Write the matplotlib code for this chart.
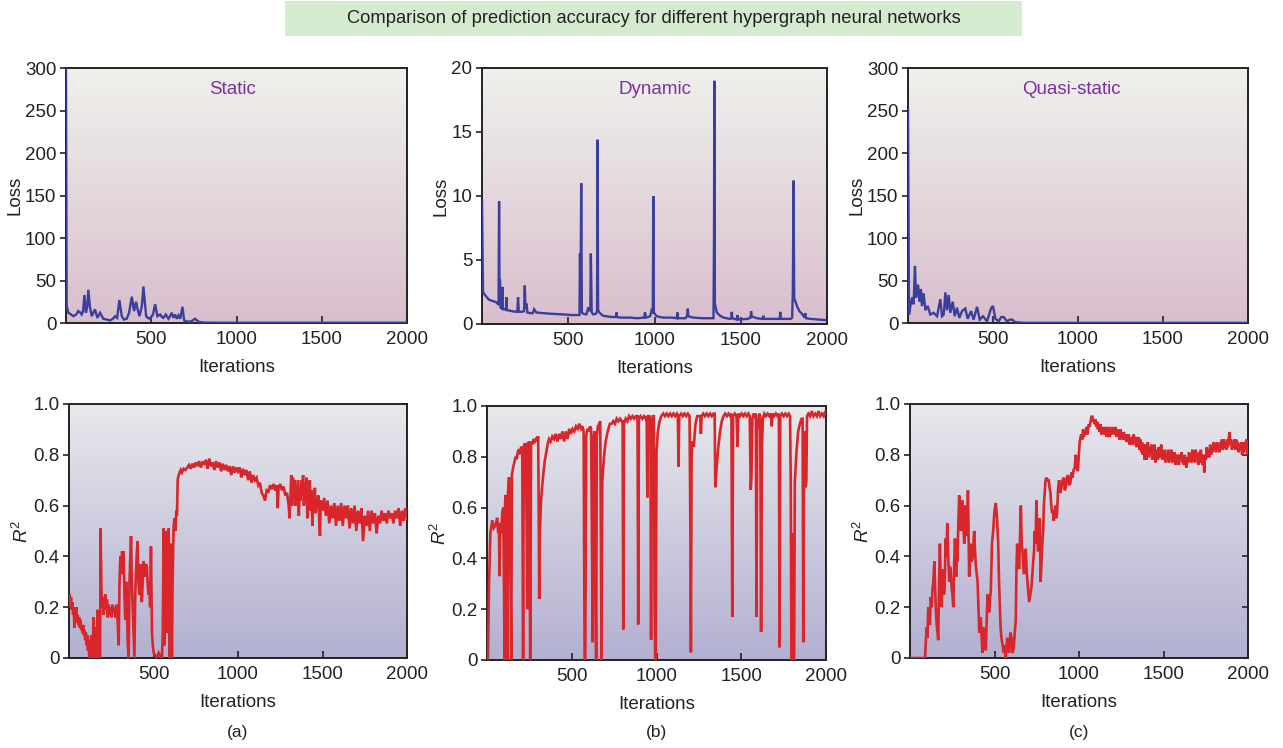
import matplotlib
matplotlib.use("Agg")
import matplotlib.pyplot as plt
import numpy as np
from matplotlib.patches import Rectangle

# ---------------- data ----------------
ITER_TICKS = [500, 1000, 1500, 2000]
LOSS_TICKS_BIG = [0, 50, 100, 150, 200, 250, 300]
LOSS_TICKS_DYN = [0, 5, 10, 15, 20]
R2_TICKS = [0, 0.2, 0.4, 0.6, 0.8, 1.0]
R2_TICK_LABELS = ["0", "0.2", "0.4", "0.6", "0.8", "1.0"]
PANEL_TITLES = ["Static", "Dynamic", "Quasi-static"]
PANEL_LETTERS = ["(a)", "(b)", "(c)"]
SUPTITLE = "Comparison of prediction accuracy for different hypergraph neural networks"

STATIC_LOSS = [(0, 300), (4, 20), (14, 12), (30, 10), (43, 8), (60, 10), (72, 14), (85, 12),
               (92, 10), (100, 14), (108, 33), (117, 12), (125, 20), (131, 39), (141, 18),
               (151, 8), (160, 12), (170, 16), (184, 6), (200, 12), (219, 5), (240, 4),
               (258, 3), (275, 5), (288, 8), (300, 6), (313, 27), (327, 8), (340, 4),
               (356, 5), (370, 12), (386, 31), (399, 14), (411, 25), (420, 16), (431, 8),
               (445, 20), (454, 43), (470, 8), (480, 6), (493, 5), (510, 10), (523, 22),
               (536, 8), (552, 10), (563, 7), (571, 6), (585, 10), (601, 5), (610, 8),
               (620, 12), (630, 6), (640, 10), (650, 5), (660, 9), (670, 5), (683, 19),
               (693, 3), (705, 2), (718, 1.5), (735, 2), (757, 5), (777, 1.5), (797, 0.8),
               (820, 0.5), (900, 0.3), (1200, 0.3), (1600, 0.3), (2000, 0.3)]

DYNAMIC_LOSS = [(0, 9.7), (6, 2.5), (15, 2.3), (40, 1.9), (83, 1.7), (93, 1.55), (96, 1.6),
                (99, 9.6), (102, 1.5), (104, 3.5), (107, 1.3), (116, 1.2), (118, 2.9),
                (121, 1.2), (139, 1.1), (141, 2.1), (144, 1.1), (175, 1.0), (199, 0.95),
                (205, 1.0), (209, 2.1), (213, 0.95), (228, 0.95), (244, 1.0), (248, 3.0),
                (252, 1.2), (258, 1.6), (263, 0.9), (275, 0.85), (295, 0.85), (302, 1.15),
                (315, 0.9), (350, 0.85), (400, 0.8), (470, 0.75), (520, 0.7), (565, 0.7),
                (568, 5.5), (571, 1.0), (575, 11.0), (579, 0.9), (587, 0.8), (605, 0.75),
                (616, 1.3), (625, 1.0), (628, 1.2), (631, 5.5), (636, 0.9), (645, 0.75),
                (660, 0.8), (667, 1.0), (670, 14.4), (673, 1.1), (680, 0.9), (700, 0.65),
                (722, 0.6), (750, 0.55), (778, 0.55), (780, 0.9), (782, 0.55), (800, 0.5),
                (858, 0.5), (900, 0.45), (940, 0.5), (945, 0.9), (950, 0.5), (974, 0.6),
                (986, 1.2), (990, 0.8), (993, 10.0), (996, 0.9), (1013, 0.6), (1051, 0.5),
                (1100, 0.5), (1129, 0.45), (1133, 0.9), (1137, 0.45), (1180, 0.45),
                (1190, 0.7), (1193, 1.2), (1196, 0.6), (1225, 0.5), (1280, 0.45),
                (1342, 0.45), (1345, 7.0), (1347, 19.0), (1350, 1.6), (1361, 0.9),
                (1380, 0.65), (1400, 0.5), (1438, 0.4), (1445, 0.45), (1448, 0.95),
                (1451, 0.45), (1478, 0.35), (1481, 0.7), (1484, 0.35), (1540, 0.4),
                (1557, 0.5), (1560, 1.0), (1563, 0.6), (1593, 0.45), (1629, 0.4),
                (1632, 0.65), (1635, 0.4), (1700, 0.4), (1726, 0.4), (1729, 0.95),
                (1732, 0.4), (1790, 0.4), (1798, 0.5), (1802, 2.5), (1806, 11.2),
                (1810, 2.0), (1816, 1.8), (1826, 1.4), (1840, 1.0), (1855, 0.8),
                (1870, 0.5), (1874, 0.85), (1878, 0.45), (1903, 0.4), (1950, 0.35),
                (2000, 0.3)]

QUASI_LOSS = [(0, 253), (6, 10), (14, 20), (24, 30), (33, 22), (41, 67), (47, 30), (53, 38),
              (59, 45), (67, 25), (76, 40), (82, 20), (92, 35), (102, 15), (116, 20),
              (131, 10), (151, 12), (171, 8), (190, 28), (200, 8), (210, 10), (220, 36),
              (229, 15), (239, 33), (249, 12), (263, 25), (275, 8), (288, 18), (302, 6),
              (318, 14), (337, 17), (351, 5), (371, 14), (386, 4), (406, 19), (422, 4),
              (441, 8), (465, 2), (488, 17), (500, 20), (514, 5), (533, 2), (548, 7),
              (563, 7), (582, 2), (600, 4), (612, 4), (631, 1), (661, 0.5), (700, 0.2),
              (1000, 0.2), (1500, 0.2), (2000, 0.2)]

STATIC_R2 = [(0, 0.22), (4, 0.25), (8, 0.2), (12, 0.24), (16, 0.19), (20, 0.22), (24, 0.17),
             (28, 0.2), (32, 0.12), (36, 0.17), (40, 0.14), (44, 0.2), (48, 0.15),
             (52, 0.17), (56, 0.13), (60, 0.16), (64, 0.12), (68, 0.15), (72, 0.11),
             (76, 0.13), (80, 0.1), (84, 0.13), (88, 0.09), (92, 0.11), (96, 0.07),
             (100, 0.1), (104, 0.05), (108, 0.09), (112, 0.03), (116, 0.07), (120, 0.0),
             (124, 0.05), (128, 0.0), (132, 0.09), (136, 0.03), (140, 0.0), (145, 0.16),
             (150, 0.05), (155, 0.0), (160, 0.12), (165, 0.0), (170, 0.19), (175, 0.05),
             (180, 0.0), (184, 0.0), (187, 0.51), (191, 0.3), (195, 0.2), (200, 0.24),
             (205, 0.17), (210, 0.22), (215, 0.25), (220, 0.19), (225, 0.23), (229, 0.16),
             (234, 0.21), (240, 0.17), (245, 0.2), (250, 0.16), (256, 0.21), (262, 0.18),
             (268, 0.2), (274, 0.16), (280, 0.21), (284, 0.2), (289, 0.12), (294, 0.05),
             (299, 0.3), (304, 0.4), (309, 0.33), (314, 0.42), (319, 0.38), (323, 0.42),
             (328, 0.25), (333, 0.15), (338, 0.3), (343, 0.2), (348, 0.05), (353, 0.0),
             (358, 0.3), (363, 0.4), (367, 0.48), (372, 0.3), (377, 0.2), (382, 0.1),
             (387, 0.0), (392, 0.25), (397, 0.35), (402, 0.42), (406, 0.46), (411, 0.3),
             (416, 0.25), (421, 0.37), (426, 0.3), (431, 0.22), (436, 0.3), (441, 0.38),
             (446, 0.35), (451, 0.32), (456, 0.37), (461, 0.36), (465, 0.3), (470, 0.25),
             (475, 0.3), (480, 0.2), (485, 0.44), (488, 0.25), (491, 0.1), (496, 0.05),
             (501, 0.02), (511, 0.01), (521, 0.0), (531, 0.02), (540, 0.01), (550, 0.0),
             (555, 0.1), (560, 0.51), (563, 0.2), (566, 0.05), (570, 0.35), (574, 0.5),
             (577, 0.3), (580, 0.1), (585, 0.4), (590, 0.51), (593, 0.2), (596, 0.0),
             (600, 0.3), (603, 0.45), (606, 0.2), (609, 0.0), (613, 0.3), (619, 0.52),
             (625, 0.55), (630, 0.5), (635, 0.58), (639, 0.56), (643, 0.7), (649, 0.72),
             (655, 0.73), (661, 0.74), (668, 0.73), (678, 0.745), (688, 0.74), (700, 0.75),
             (710, 0.76), (720, 0.745), (730, 0.765), (740, 0.75), (750, 0.77), (760, 0.755),
             (770, 0.775), (780, 0.75), (790, 0.77), (800, 0.765), (810, 0.78), (820, 0.745),
             (830, 0.785), (840, 0.755), (850, 0.77), (860, 0.74), (870, 0.775), (880, 0.75),
             (890, 0.77), (900, 0.735), (910, 0.765), (920, 0.74), (930, 0.76), (940, 0.735),
             (950, 0.755), (960, 0.72), (970, 0.755), (980, 0.73), (990, 0.75), (1000, 0.735),
             (1010, 0.75), (1020, 0.71), (1030, 0.745), (1040, 0.72), (1050, 0.74),
             (1060, 0.7), (1070, 0.735), (1080, 0.69), (1090, 0.72), (1100, 0.7),
             (1110, 0.71), (1120, 0.68), (1130, 0.69), (1140, 0.65), (1150, 0.64),
             (1160, 0.62), (1170, 0.66), (1180, 0.655), (1190, 0.68), (1200, 0.665),
             (1210, 0.685), (1220, 0.66), (1230, 0.68), (1235, 0.59), (1240, 0.67),
             (1250, 0.685), (1260, 0.66), (1270, 0.675), (1280, 0.64), (1290, 0.65),
             (1300, 0.6), (1305, 0.55), (1310, 0.62), (1315, 0.72), (1320, 0.6),
             (1325, 0.71), (1330, 0.64), (1335, 0.7), (1340, 0.6), (1345, 0.68),
             (1350, 0.62), (1355, 0.7), (1360, 0.56), (1365, 0.67), (1370, 0.62),
             (1375, 0.7), (1380, 0.64), (1385, 0.72), (1390, 0.6), (1395, 0.69),
             (1400, 0.63), (1405, 0.71), (1410, 0.55), (1415, 0.66), (1420, 0.6),
             (1425, 0.7), (1430, 0.58), (1435, 0.66), (1440, 0.52), (1445, 0.64),
             (1450, 0.59), (1455, 0.67), (1460, 0.57), (1465, 0.63), (1470, 0.6),
             (1475, 0.64), (1480, 0.55), (1485, 0.48), (1490, 0.62), (1500, 0.58),
             (1510, 0.63), (1520, 0.56), (1530, 0.62), (1540, 0.53), (1550, 0.6),
             (1560, 0.55), (1570, 0.61), (1580, 0.52), (1590, 0.6), (1600, 0.54),
             (1610, 0.61), (1620, 0.52), (1630, 0.6), (1640, 0.55), (1650, 0.6),
             (1660, 0.51), (1670, 0.59), (1680, 0.53), (1690, 0.6), (1700, 0.5),
             (1710, 0.58), (1720, 0.53), (1730, 0.59), (1740, 0.46), (1750, 0.56),
             (1760, 0.52), (1770, 0.58), (1780, 0.5), (1790, 0.58), (1800, 0.53),
             (1810, 0.57), (1820, 0.49), (1830, 0.56), (1840, 0.53), (1850, 0.58),
             (1860, 0.54), (1870, 0.57), (1880, 0.53), (1890, 0.58), (1900, 0.55),
             (1910, 0.57), (1920, 0.53), (1930, 0.58), (1940, 0.55), (1950, 0.59),
             (1960, 0.52), (1970, 0.58), (1980, 0.54), (1990, 0.59), (2000, 0.55)]

DYNAMIC_R2 = [(0, 0.0), (5, 0.0), (12, 0.3), (20, 0.5), (31, 0.55), (40, 0.52), (50, 0.53),
              (60, 0.56), (66, 0.5), (70, 0.54), (74, 0.33), (78, 0.52), (84, 0.5), (90, 0.58),
              (96, 0.6), (100, 0.3), (104, 0.0), (107, 0.62), (110, 0.65), (115, 0.3),
              (120, 0.0), (124, 0.66), (130, 0.72), (136, 0.5), (143, 0.0), (147, 0.73),
              (155, 0.76), (162, 0.78), (169, 0.8), (175, 0.79), (182, 0.82), (189, 0.83),
              (195, 0.81), (202, 0.84), (208, 0.83), (213, 0.0), (217, 0.84), (222, 0.85),
              (228, 0.85), (233, 0.6), (238, 0.2), (242, 0.85), (248, 0.86), (252, 0.4),
              (255, 0.0), (260, 0.86), (268, 0.85), (275, 0.87), (282, 0.86), (290, 0.87),
              (296, 0.86), (302, 0.88), (305, 0.6), (308, 0.24), (312, 0.5), (318, 0.62),
              (325, 0.68), (332, 0.73), (340, 0.78), (350, 0.82), (358, 0.85), (366, 0.87),
              (375, 0.86), (385, 0.88), (395, 0.87), (405, 0.89), (415, 0.86), (425, 0.89),
              (435, 0.87), (445, 0.9), (455, 0.86), (465, 0.9), (475, 0.87), (485, 0.91),
              (495, 0.89), (505, 0.91), (515, 0.9), (525, 0.92), (535, 0.91), (545, 0.93),
              (555, 0.91), (563, 0.92), (570, 0.9), (576, 0.0), (580, 0.0), (585, 0.88),
              (592, 0.91), (600, 0.9), (608, 0.92), (614, 0.91), (619, 0.5), (624, 0.07),
              (629, 0.88), (634, 0.9), (640, 0.3), (644, 0.0), (648, 0.88), (654, 0.92),
              (662, 0.93), (668, 0.94), (672, 0.5), (676, 0.0), (680, 0.7), (690, 0.8),
              (700, 0.86), (712, 0.9), (725, 0.93), (735, 0.93), (745, 0.94), (755, 0.93),
              (765, 0.95), (775, 0.94), (785, 0.95), (795, 0.94), (800, 0.94), (804, 0.12),
              (808, 0.93), (818, 0.95), (828, 0.94), (838, 0.96), (848, 0.95), (858, 0.96),
              (868, 0.95), (878, 0.96), (888, 0.96), (892, 0.14), (896, 0.95), (906, 0.96),
              (916, 0.95), (926, 0.96), (936, 0.95), (942, 0.96), (946, 0.64), (950, 0.96),
              (958, 0.96), (964, 0.95), (968, 0.08), (972, 0.9), (978, 0.96), (984, 0.96),
              (988, 0.3), (992, 0.0), (996, 0.0), (1000, 0.82), (1008, 0.9), (1018, 0.94),
              (1028, 0.96), (1040, 0.97), (1050, 0.96), (1060, 0.97), (1070, 0.96),
              (1080, 0.97), (1090, 0.96), (1100, 0.97), (1110, 0.96), (1120, 0.97),
              (1126, 0.96), (1130, 0.76), (1134, 0.96), (1145, 0.97), (1155, 0.96),
              (1165, 0.97), (1175, 0.96), (1185, 0.97), (1195, 0.96), (1200, 0.5),
              (1203, 0.03), (1207, 0.8), (1212, 0.86), (1220, 0.84), (1230, 0.93),
              (1240, 0.96), (1250, 0.96), (1258, 0.96), (1262, 0.89), (1266, 0.96),
              (1276, 0.97), (1286, 0.96), (1296, 0.97), (1306, 0.96), (1316, 0.97),
              (1326, 0.96), (1336, 0.97), (1343, 0.97), (1347, 0.68), (1355, 0.76),
              (1365, 0.84), (1375, 0.9), (1385, 0.94), (1395, 0.96), (1405, 0.97),
              (1415, 0.96), (1425, 0.97), (1435, 0.96), (1442, 0.97), (1447, 0.17),
              (1452, 0.96), (1462, 0.97), (1472, 0.96), (1478, 0.84), (1482, 0.97),
              (1492, 0.96), (1502, 0.97), (1512, 0.96), (1522, 0.97), (1532, 0.96),
              (1542, 0.97), (1550, 0.96), (1556, 0.67), (1560, 0.72), (1566, 0.95),
              (1572, 0.97), (1580, 0.96), (1586, 0.97), (1590, 0.17), (1594, 0.9),
              (1600, 0.94), (1606, 0.97), (1612, 0.96), (1617, 0.11), (1622, 0.84),
              (1628, 0.95), (1636, 0.97), (1646, 0.96), (1656, 0.97), (1666, 0.96),
              (1676, 0.97), (1680, 0.92), (1684, 0.97), (1694, 0.96), (1704, 0.97),
              (1714, 0.96), (1722, 0.97), (1726, 0.05), (1730, 0.96), (1740, 0.97),
              (1750, 0.96), (1760, 0.97), (1770, 0.96), (1780, 0.97), (1788, 0.96),
              (1792, 0.7), (1796, 0.0), (1800, 0.0), (1805, 0.5), (1808, 0.0), (1812, 0.0),
              (1816, 0.7), (1826, 0.82), (1836, 0.9), (1846, 0.93), (1856, 0.95),
              (1862, 0.95), (1866, 0.07), (1870, 0.8), (1876, 0.9), (1880, 0.68),
              (1884, 0.7), (1888, 0.96), (1896, 0.97), (1906, 0.96), (1916, 0.98),
              (1926, 0.96), (1936, 0.97), (1946, 0.96), (1956, 0.98), (1966, 0.96),
              (1976, 0.97), (1986, 0.96), (1996, 0.98), (2000, 0.97)]

QUASI_R2 = [(0, 0.0), (30, 0.0), (60, 0.0), (89, 0.0), (98, 0.12), (103, 0.08), (108, 0.2),
            (113, 0.16), (118, 0.13), (123, 0.24), (128, 0.2), (133, 0.27), (138, 0.3),
            (144, 0.38), (150, 0.25), (154, 0.18), (158, 0.13), (163, 0.1), (167, 0.07),
            (172, 0.3), (177, 0.45), (182, 0.3), (187, 0.2), (192, 0.3), (197, 0.35),
            (201, 0.25), (205, 0.28), (211, 0.47), (216, 0.4), (221, 0.53), (226, 0.4),
            (232, 0.3), (236, 0.36), (240, 0.35), (246, 0.28), (251, 0.25), (256, 0.2),
            (261, 0.35), (266, 0.47), (270, 0.4), (273, 0.32), (277, 0.42), (280, 0.38),
            (286, 0.52), (291, 0.64), (296, 0.55), (301, 0.5), (306, 0.58), (311, 0.62),
            (316, 0.52), (321, 0.45), (326, 0.6), (331, 0.55), (337, 0.48), (343, 0.66),
            (347, 0.45), (350, 0.32), (354, 0.42), (358, 0.45), (364, 0.38), (370, 0.39),
            (375, 0.45), (380, 0.5), (385, 0.42), (390, 0.36), (395, 0.33), (400, 0.3),
            (405, 0.2), (410, 0.1), (414, 0.15), (419, 0.16), (424, 0.08), (429, 0.02),
            (434, 0.12), (439, 0.1), (444, 0.06), (449, 0.03), (454, 0.15), (459, 0.25),
            (464, 0.2), (469, 0.18), (474, 0.24), (478, 0.26), (485, 0.45), (492, 0.5),
            (500, 0.58), (508, 0.61), (515, 0.55), (522, 0.45), (527, 0.3), (532, 0.2),
            (536, 0.12), (541, 0.08), (548, 0.05), (555, 0.02), (561, 0.05), (567, 0.0),
            (575, 0.08), (581, 0.05), (587, 0.02), (594, 0.1), (601, 0.08), (607, 0.02),
            (614, 0.04), (620, 0.1), (626, 0.15), (630, 0.35), (634, 0.45), (640, 0.38),
            (646, 0.35), (651, 0.48), (656, 0.6), (661, 0.45), (666, 0.42), (670, 0.36),
            (675, 0.33), (680, 0.38), (685, 0.43), (690, 0.35), (695, 0.3), (700, 0.26),
            (705, 0.22), (712, 0.25), (719, 0.28), (724, 0.33), (729, 0.38), (734, 0.42),
            (738, 0.5), (743, 0.45), (748, 0.62), (753, 0.5), (758, 0.42), (763, 0.5),
            (768, 0.55), (773, 0.3), (778, 0.38), (783, 0.45), (788, 0.5), (792, 0.6),
            (797, 0.65), (802, 0.7), (807, 0.71), (814, 0.7), (821, 0.7), (826, 0.67),
            (831, 0.65), (836, 0.6), (841, 0.57), (846, 0.58), (851, 0.54), (856, 0.58),
            (860, 0.6), (865, 0.55), (870, 0.57), (876, 0.66), (882, 0.7), (889, 0.65),
            (896, 0.67), (903, 0.7), (910, 0.71), (916, 0.66), (921, 0.67), (928, 0.71),
            (935, 0.72), (942, 0.68), (949, 0.69), (955, 0.73), (961, 0.71), (968, 0.74),
            (975, 0.75), (980, 0.8), (985, 0.78), (990, 0.74), (994, 0.74), (999, 0.8),
            (1004, 0.85), (1009, 0.87), (1014, 0.88), (1019, 0.86), (1024, 0.9),
            (1029, 0.87), (1034, 0.89), (1039, 0.88), (1044, 0.91), (1049, 0.88),
            (1053, 0.9), (1058, 0.92), (1063, 0.91), (1068, 0.93), (1074, 0.95),
            (1079, 0.95), (1084, 0.93), (1089, 0.94), (1093, 0.92), (1098, 0.94),
            (1103, 0.91), (1108, 0.93), (1112, 0.9), (1117, 0.92), (1122, 0.89),
            (1127, 0.92), (1132, 0.88), (1137, 0.91), (1142, 0.89), (1147, 0.9),
            (1152, 0.88), (1157, 0.91), (1162, 0.87), (1167, 0.9), (1172, 0.88),
            (1177, 0.91), (1182, 0.87), (1187, 0.9), (1191, 0.88), (1196, 0.91),
            (1201, 0.89), (1206, 0.9), (1211, 0.88), (1216, 0.91), (1221, 0.87),
            (1226, 0.9), (1231, 0.88), (1236, 0.89), (1241, 0.86), (1246, 0.9),
            (1250, 0.87), (1255, 0.88), (1260, 0.86), (1265, 0.89), (1270, 0.86),
            (1275, 0.88), (1280, 0.85), (1285, 0.88), (1290, 0.86), (1295, 0.88),
            (1300, 0.84), (1305, 0.87), (1309, 0.85), (1314, 0.87), (1319, 0.84),
            (1324, 0.88), (1329, 0.85), (1334, 0.87), (1339, 0.83), (1344, 0.87),
            (1349, 0.84), (1354, 0.87), (1359, 0.82), (1364, 0.86), (1368, 0.81),
            (1373, 0.85), (1378, 0.8), (1383, 0.84), (1388, 0.78), (1393, 0.84),
            (1398, 0.78), (1403, 0.83), (1408, 0.85), (1413, 0.79), (1418, 0.83),
            (1423, 0.8), (1428, 0.84), (1433, 0.78), (1438, 0.82), (1443, 0.8),
            (1447, 0.84), (1452, 0.77), (1457, 0.82), (1462, 0.79), (1467, 0.78),
            (1472, 0.83), (1477, 0.79), (1482, 0.82), (1487, 0.84), (1492, 0.78),
            (1497, 0.81), (1502, 0.79), (1507, 0.82), (1512, 0.77), (1517, 0.8),
            (1522, 0.78), (1527, 0.82), (1532, 0.77), (1537, 0.81), (1542, 0.79),
            (1546, 0.82), (1551, 0.77), (1556, 0.8), (1561, 0.78), (1566, 0.81),
            (1571, 0.76), (1576, 0.8), (1581, 0.77), (1586, 0.8), (1591, 0.76),
            (1596, 0.8), (1601, 0.78), (1606, 0.81), (1611, 0.77), (1616, 0.79),
            (1621, 0.76), (1626, 0.8), (1631, 0.77), (1636, 0.75), (1641, 0.79),
            (1646, 0.77), (1651, 0.81), (1656, 0.78), (1661, 0.8), (1666, 0.77),
            (1671, 0.82), (1676, 0.78), (1681, 0.8), (1686, 0.77), (1691, 0.82),
            (1696, 0.79), (1701, 0.8), (1706, 0.76), (1711, 0.81), (1716, 0.77),
            (1721, 0.82), (1726, 0.78), (1731, 0.76), (1736, 0.8), (1741, 0.73),
            (1746, 0.8), (1751, 0.78), (1756, 0.83), (1761, 0.79), (1766, 0.82),
            (1771, 0.79), (1776, 0.84), (1781, 0.8), (1786, 0.83), (1791, 0.81),
            (1796, 0.85), (1801, 0.82), (1806, 0.84), (1811, 0.81), (1816, 0.85),
            (1821, 0.82), (1826, 0.84), (1831, 0.81), (1836, 0.85), (1841, 0.83),
            (1846, 0.86), (1851, 0.82), (1856, 0.86), (1861, 0.83), (1866, 0.85),
            (1871, 0.82), (1876, 0.86), (1881, 0.83), (1886, 0.86), (1890, 0.89),
            (1895, 0.84), (1900, 0.86), (1905, 0.82), (1910, 0.85), (1915, 0.83),
            (1920, 0.86), (1925, 0.82), (1930, 0.86), (1935, 0.83), (1940, 0.85),
            (1945, 0.81), (1950, 0.84), (1955, 0.82), (1960, 0.85), (1965, 0.8),
            (1970, 0.84), (1975, 0.81), (1980, 0.85), (1985, 0.82), (1990, 0.86),
            (1995, 0.8), (2000, 0.84)]

# ---------------- style ----------------
plt.rcParams["font.family"] = ["Liberation Sans", "DejaVu Sans"]
plt.rcParams["mathtext.fontset"] = "custom"
plt.rcParams["mathtext.rm"] = "Liberation Sans"
plt.rcParams["mathtext.it"] = "Liberation Sans:italic"

BLUE = "#3b3f9c"
RED = "#d8262b"
PURPLE = "#7d2fa3"
TOP_GRAD = ((0.937, 0.945, 0.925), (0.850, 0.745, 0.806))
BOT_GRAD = ((0.910, 0.910, 0.925), (0.700, 0.690, 0.820))

W, H = 1283, 748
fig = plt.figure(figsize=(W / 100, H / 100), dpi=100)


def px_axes(left, top, right, bottom):
    return fig.add_axes([left / W, 1 - bottom / H, (right - left) / W, (bottom - top) / H])


def gradient(ax, cols):
    t = np.linspace(0, 1, 256)[:, None, None]
    c0 = np.array(cols[0])[None, None, :]
    c1 = np.array(cols[1])[None, None, :]
    img = (1 - t) * c0 + t * c1
    ax.imshow(img, extent=[0, 1, 0, 1], transform=ax.transAxes, aspect="auto",
              origin="upper", zorder=0, interpolation="bilinear")


def style(ax, yticks, ylabels=None, right_ticks=False):
    ax.set_xlim(0, 2000)
    ax.set_ylim(yticks[0], yticks[-1])
    ax.set_xticks(ITER_TICKS)
    ax.set_yticks(yticks)
    if ylabels is not None:
        ax.set_yticklabels(ylabels)
    ax.tick_params(axis="x", direction="in", length=5, width=1.2, labelsize=13.5,
                   pad=6, colors="#222222")
    ax.tick_params(axis="y", direction="out", length=4, width=1.2, labelsize=13.5,
                   pad=3, colors="#222222")
    if right_ticks:
        ax.tick_params(axis="y", which="both", right=True, labelright=False)
        for t in ax.yaxis.get_ticklines()[1::2]:
            t.set_marker(matplotlib.lines.TICKLEFT)
    for s in ax.spines.values():
        s.set_linewidth(1.4)
        s.set_color("#222222")
    ax.set_xlabel("Iterations", fontsize=13.5, color="#222222", labelpad=8)


def draw(ax, data, color, lw):
    x, y = zip(*data)
    ax.plot(x, y, color=color, lw=lw, zorder=3, solid_joinstyle="miter", clip_on=True)


# Title box
fig.patches.append(Rectangle((285 / W, 1 - 36 / H), (1022 - 285) / W, 35 / H,
                             transform=fig.transFigure, facecolor="#d5ebcf",
                             edgecolor="none", zorder=0))
fig.text(653.5 / W, 1 - 18.5 / H, SUPTITLE, ha="center", va="center", fontsize=13.2,
         color="#222222")

top_boxes = [(66, 68, 407, 323), (482, 68, 827, 324), (908, 68, 1248, 323)]
bot_boxes = [(69, 404, 407, 658), (487, 406, 826, 660), (910, 404, 1248, 658)]
loss_data = [STATIC_LOSS, DYNAMIC_LOSS, QUASI_LOSS]
loss_ticks = [LOSS_TICKS_BIG, LOSS_TICKS_DYN, LOSS_TICKS_BIG]
r2_data = [STATIC_R2, DYNAMIC_R2, QUASI_R2]
title_x = [0.487, 0.5, 0.48]

for i in range(3):
    ax = px_axes(*top_boxes[i])
    gradient(ax, TOP_GRAD)
    draw(ax, loss_data[i], BLUE, 1.7)
    style(ax, loss_ticks[i])
    ax.set_ylabel("Loss", fontsize=13.5, color="#222222", labelpad=1)
    ax.text(title_x[i], 0.915, PANEL_TITLES[i], transform=ax.transAxes, ha="center",
            va="center", color=PURPLE, fontsize=13.5)

    bx = px_axes(*bot_boxes[i])
    gradient(bx, BOT_GRAD)
    draw(bx, r2_data[i], RED, 1.9)
    style(bx, R2_TICKS, R2_TICK_LABELS, right_ticks=(i == 2))
    bx.set_ylabel(r"$\mathit{R}^{2}$", fontsize=13.5, color="#222222", labelpad=1)

    cx = (bot_boxes[i][0] + bot_boxes[i][2]) / 2
    fig.text(cx / W, 1 - 733 / H, PANEL_LETTERS[i], ha="center", va="center",
             fontsize=12.5, color="#222222")

fig.savefig("out.png", dpi=100, facecolor="white")
